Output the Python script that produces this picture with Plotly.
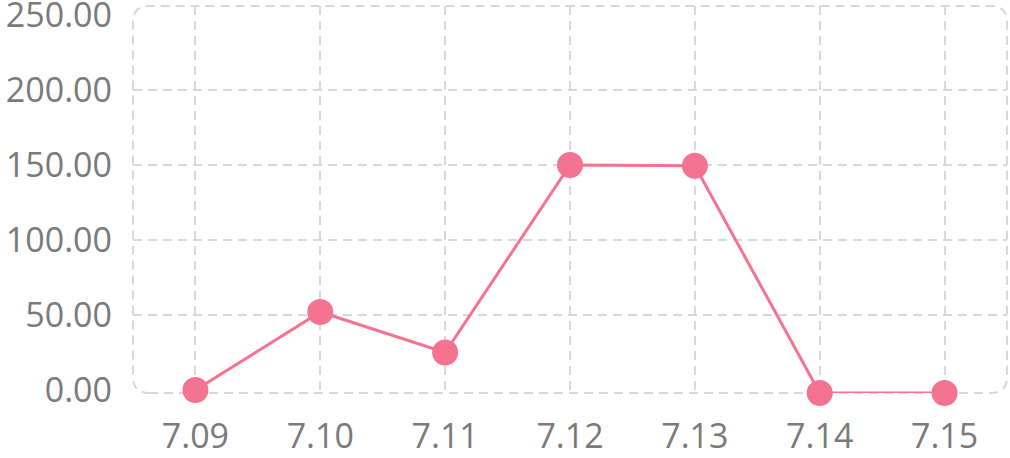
import plotly.graph_objects as go

dates = ["7.09", "7.10", "7.11", "7.12", "7.13", "7.14", "7.15"]
values = [0, 52, 25, 150, 149.5, -2, -2]
y_ticks = [0, 50, 100, 150, 200, 250]
grid_levels = [50, 100, 150, 200]

W, H = 1010, 458
ml, mr, mt, mb = 133, 3, 6, 65
pw, ph = W - ml - mr, H - mt - mb

line_color = "#F47391"
grid_color = "#D8D8D8"
text_color = "#7A7A7A"
dash = "9px,6px"

fig = go.Figure()
fig.add_trace(go.Scatter(
    x=dates, y=values, mode="lines+markers",
    line=dict(color=line_color, width=3),
    marker=dict(color=line_color, size=26),
    cliponaxis=False, hoverinfo="skip",
))

shapes = []
for g in grid_levels:
    shapes.append(dict(type="line", xref="paper", yref="y", x0=0, x1=1, y0=g, y1=g,
                       line=dict(color=grid_color, width=2, dash=dash), layer="below"))

# rounded dashed border
r = 16
rx, ry = r / pw, r / ph
path = (f"M {rx},0 L {1-rx},0 Q 1,0 1,{ry} L 1,{1-ry} Q 1,1 {1-rx},1 "
        f"L {rx},1 Q 0,1 0,{1-ry} L 0,{ry} Q 0,0 {rx},0 Z")
shapes.append(dict(type="path", xref="paper", yref="paper", path=path,
                   line=dict(color=grid_color, width=2, dash=dash), layer="below"))

fig.update_layout(
    width=W, height=H,
    margin=dict(l=ml, r=mr, t=mt, b=mb, autoexpand=False),
    paper_bgcolor="white", plot_bgcolor="white",
    showlegend=False,
    shapes=shapes,
    font=dict(family="Open Sans", color=text_color, size=35),
    xaxis=dict(
        type="category", range=[-0.5, 6.5], automargin=False,
        showgrid=True, gridcolor=grid_color, gridwidth=2, griddash=dash,
        showline=False, zeroline=False, ticks="",
        tickfont=dict(size=34, color=text_color), ticklabelstandoff=20,
        ticklabeloverflow="allow",
    ),
    yaxis=dict(
        range=[-2, 256], tickvals=y_ticks, automargin=False,
        ticktext=[f"{v:.2f}" for v in y_ticks],
        showgrid=False, showline=False, zeroline=False, ticks="",
        tickfont=dict(size=34, color=text_color), ticklabelstandoff=20,
        ticklabeloverflow="allow",
    ),
)

fig.write_html("out.html", config={"displayModeBar": False},
               post_script="document.body.style.margin='0';document.body.style.overflow='hidden';")
